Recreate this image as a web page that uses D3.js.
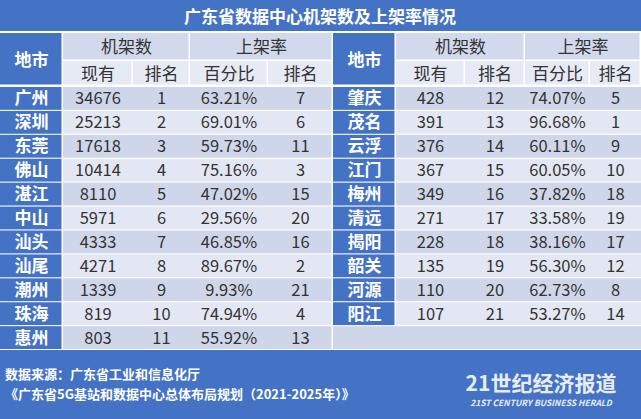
<!DOCTYPE html><html><head><meta charset="utf-8"><script src="https://d3js.org/d3.v7.min.js"></script>
<style>body{margin:0;background:#fff}svg{display:block}text{font-family:"Noto Sans CJK SC","Noto Sans",sans-serif}</style></head><body><svg id="c" width="641" height="419"></svg><script>
const leftCities=["广州","深圳","东莞","佛山","湛江","中山","汕头","汕尾","潮州","珠海","惠州"];
const leftRacks=[34676,25213,17618,10414,8110,5971,4333,4271,1339,819,803];
const leftRackRank=[1,2,3,4,5,6,7,8,9,10,11];
const leftRate=["63.21%","69.01%","59.73%","75.16%","47.02%","29.56%","46.85%","89.67%","9.93%","74.94%","55.92%"];
const leftRateRank=[7,6,11,3,15,20,16,2,21,4,13];
const rightCities=["肇庆","茂名","云浮","江门","梅州","清远","揭阳","韶关","河源","阳江"];
const rightRacks=[428,391,376,367,349,271,228,135,110,107];
const rightRackRank=[12,13,14,15,16,17,18,19,20,21];
const rightRate=["74.07%","96.68%","60.11%","60.05%","37.82%","33.58%","38.16%","56.30%","62.73%","53.27%"];
const rightRateRank=[5,1,9,10,18,19,17,12,8,14];
const title="广东省数据中心机架数及上架率情况";
const blue="#4472C4",hdr="#D2D9EC",rowA="#E3E7F3",rowB="#CFD6EA";
const svg=d3.select("#c");
const cols=[0,63,133,190,268,333,396,465,525,590,641];
const y=d3.scaleBand().domain(d3.range(11)).range([87,349]).paddingInner(0.045);
svg.append("rect").attr("width",641).attr("height",419).attr("fill","#fff");
svg.append("rect").attr("width",641).attr("height",31).attr("fill",blue);
svg.append("text").attr("x",320).attr("y",23).attr("text-anchor","middle").attr("fill","#fff").attr("font-size",17).attr("font-weight","bold").text(title);
function hcell(x0,x1,y0,y1,t,fill,col,fw){svg.append("rect").attr("x",x0).attr("y",y0).attr("width",x1-x0-1.5).attr("height",y1-y0-1.5).attr("fill",fill);
svg.append("text").attr("x",(x0+x1)/2).attr("y",(y0+y1)/2+6).attr("text-anchor","middle").attr("fill",col).attr("font-size",17).attr("font-weight",fw||"normal").text(t);}
[0,5].forEach(o=>{
 hcell(cols[o],cols[o+1],33,86,"地市",blue,"#fff","bold");
 hcell(cols[o+1],cols[o+3],33,61,"机架数",hdr,"#333");
 hcell(cols[o+3],cols[o+5],33,61,"上架率",hdr,"#333");
 ["现有","排名","百分比","排名"].forEach((t,i)=>hcell(cols[o+1+i],cols[o+2+i],61,86,t,"#E6EAF5","#333"));
});
function block(o,cities,racks,rr,rate,rk){
 cities.forEach((c,i)=>{
  const y0=y(i),h=y.bandwidth(),bg=i%2?rowA:rowB;
  svg.append("rect").attr("x",cols[o]).attr("y",y0).attr("width",cols[o+1]-cols[o]-1.5).attr("height",h).attr("fill",blue);
  svg.append("text").attr("x",(cols[o]+cols[o+1])/2).attr("y",y0+h/2+6).attr("text-anchor","middle").attr("fill","#fff").attr("font-size",17).attr("font-weight","bold").text(c);
  svg.append("rect").attr("x",cols[o+1]).attr("y",y0).attr("width",cols[o+5]-cols[o+1]-(o?0:1.5)).attr("height",h).attr("fill",bg);
  [racks[i],rr[i],rate[i],rk[i]].forEach((v,j)=>svg.append("text").attr("x",(cols[o+1+j]+cols[o+2+j])/2).attr("y",y0+h/2+6).attr("text-anchor","middle").attr("fill","#333").attr("font-size",16.5).text(v));
 });
}
block(0,leftCities,leftRacks,leftRackRank,leftRate,leftRateRank);
block(5,rightCities,rightRacks,rightRackRank,rightRate,rightRateRank);
svg.append("rect").attr("x",333).attr("y",y(10)).attr("width",308).attr("height",y.bandwidth()).attr("fill",rowB);
svg.append("rect").attr("y",350).attr("width",641).attr("height",69).attr("fill",blue);
svg.append("text").attr("x",5).attr("y",379).attr("fill","#fff").attr("font-size",13).attr("font-weight","bold").text("数据来源：广东省工业和信息化厅");
svg.append("text").attr("x",5).attr("y",399).attr("fill","#fff").attr("font-size",13).attr("font-weight","bold").text("《广东省5G基站和数据中心总体布局规划（2021-2025年）》");
svg.append("text").attr("x",541).attr("y",391).attr("text-anchor","middle").attr("fill","#E8ECF6").attr("font-size",21).attr("font-weight","bold").attr("font-family","Noto Serif CJK SC,serif").text("21世纪经济报道");
svg.append("text").attr("x",541).attr("y",406).attr("text-anchor","middle").attr("fill","#E8ECF6").attr("font-size",8.5).attr("font-style","italic").attr("font-weight","bold").text("21ST CENTURY BUSINESS HERALD");
</script></body></html>
